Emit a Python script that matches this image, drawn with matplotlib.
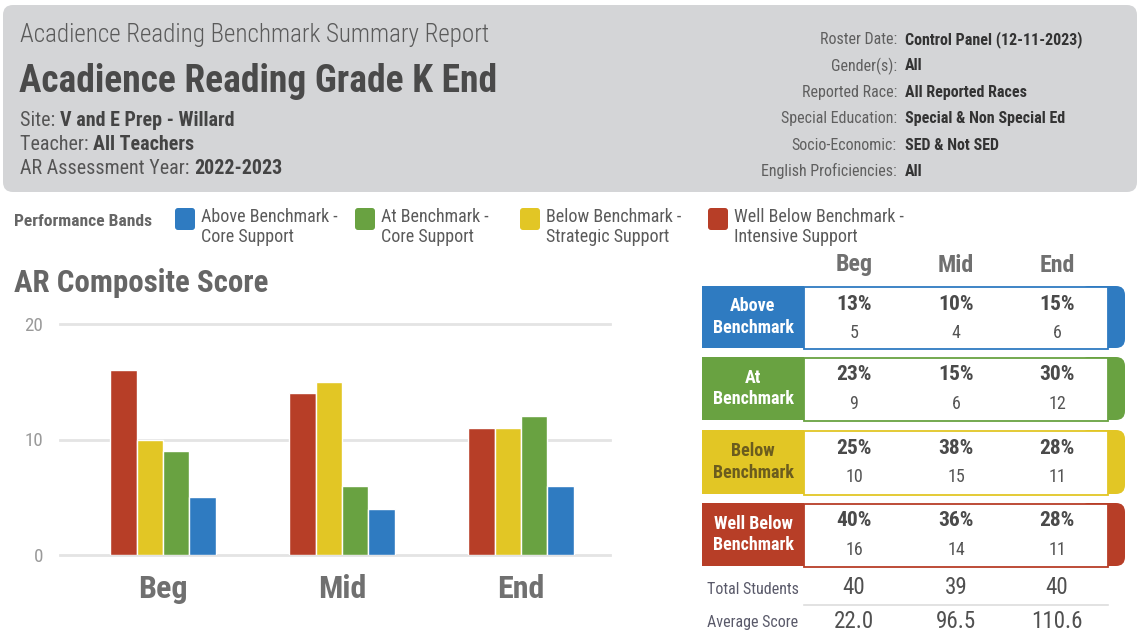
import matplotlib
matplotlib.use("Agg")
import matplotlib.pyplot as plt
import matplotlib.font_manager as fm
from matplotlib.patches import FancyBboxPatch, Rectangle
import numpy as np

# ---------------- data ----------------
periods = ["Beg", "Mid", "End"]
well_below = [16, 14, 11]
below = [10, 15, 11]
at_bm = [9, 6, 12]
above = [5, 4, 6]
above_pct = [13, 10, 15]
at_pct = [23, 15, 30]
below_pct = [25, 38, 28]
well_below_pct = [40, 36, 28]
total_students = [40, 39, 40]
average_score = ["22.0", "96.5", "110.6"]
y_ticks = [0, 10, 20]

meta_labels = ["Roster Date:", "Gender(s):", "Reported Race:", "Special Education:",
               "Socio-Economic:", "English Proficiencies:"]
meta_values = ["Control Panel (12-11-2023)", "All", "All Reported Races",
               "Special & Non Special Ed", "SED & Not SED", "All"]

legend_labels = ["Above Benchmark -\nCore Support", "At Benchmark -\nCore Support",
                 "Below Benchmark -\nStrategic Support", "Well Below Benchmark -\nIntensive Support"]
band_names = ["Above\nBenchmark", "At\nBenchmark", "Below\nBenchmark", "Well Below\nBenchmark"]

RED = "#b73e27"
YEL = "#e2c625"
GRN = "#69a241"
BLU = "#2f7bc1"

# ---------------- fonts ----------------
avail = {f.name for f in fm.fontManager.ttflist}
COND = next((n for n in ["Roboto Condensed", "Liberation Sans Narrow", "Roboto"] if n in avail), "DejaVu Sans")
plt.rcParams["font.family"] = [COND, "DejaVu Sans"]

W, H = 1140, 637
fig = plt.figure(figsize=(W / 100, H / 100), dpi=100)
fig.patch.set_facecolor("white")

bg = fig.add_axes([0, 0, 1, 1])
bg.set_xlim(0, W)
bg.set_ylim(H, 0)
bg.axis("off")

def px(p):
    return p * 0.72

# ---------------- header ----------------
bg.add_patch(FancyBboxPatch((3, 5), 1134, 187, boxstyle="round,pad=0,rounding_size=10",
                            fc="#d4d5d7", ec="none"))
bg.text(20, 35, "Acadience Reading Benchmark Summary Report", fontsize=px(25), color="#5a5a5a",
        va="center", ha="left", fontweight="light")
bg.text(19, 81, "Acadience Reading Grade K End", fontsize=px(37.5), color="#4a4a4a",
        va="center", ha="left", fontweight="bold")
sub_y = [121, 145, 168]
sub_l = ["Site: ", "Teacher: ", "AR Assessment Year: "]
sub_v = ["V and E Prep - Willard", "All Teachers", "2022-2023"]
for y, l, v in zip(sub_y, sub_l, sub_v):
    t = bg.text(20, y, l, fontsize=px(20), color="#555555", va="center", ha="left")
    bg.annotate(v, xycoords=t, xy=(1, 0.5), va="center", ha="left", fontsize=px(20),
                color="#444444", fontweight="bold")

meta_y = [40, 66, 92, 119, 145, 171]
for y, l, v in zip(meta_y, meta_labels, meta_values):
    bg.text(897, y, l, fontsize=px(16), color="#5f5f5f", ha="right", va="center")
    bg.text(905, y, v, fontsize=px(16), color="#333333", ha="left", va="center", fontweight="bold")

# ---------------- legend ----------------
bg.text(14, 221, "Performance Bands", fontsize=px(17.5), color="#666666", fontweight="bold",
        ha="left", va="center")
leg_x = [175, 355, 520, 708]
leg_c = [BLU, GRN, YEL, RED]
for x, c, lab in zip(leg_x, leg_c, legend_labels):
    bg.add_patch(FancyBboxPatch((x, 208), 20, 22, boxstyle="round,pad=0,rounding_size=3",
                                fc=c, ec="none"))
    bg.text(x + 26, 227, lab, fontsize=px(18), color="#5a5a5a", ha="left", va="center",
            linespacing=1.2)

bg.text(14, 283, "AR Composite Score", fontsize=px(31), color="#666666", fontweight="bold",
        ha="left", va="center")

# ---------------- bar chart ----------------
L, R, T, B = 60, 610, 324, 555
ax = fig.add_axes([L / W, (H - B) / H, (R - L) / W, (B - T) / H])
ax.set_facecolor("none")
x = np.arange(len(periods))
series = [(well_below, RED), (below, YEL), (at_bm, GRN), (above, BLU)]
step = 0.148
for k, (vals, c) in enumerate(series):
    ax.bar(x + (k - 1.5) * step, vals, width=step, color=c, edgecolor="white", linewidth=1.0,
           zorder=3)
for yv in y_ticks:
    ax.axhline(yv, color="#e4e4e4", lw=2, zorder=1, clip_on=False)
ax.set_xlim((L - 163) / 179, (R - 163) / 179)
ax.set_ylim(0, 20)
for s in ax.spines.values():
    s.set_visible(False)
ax.set_yticks(y_ticks)
ax.set_yticklabels([str(v) for v in y_ticks], fontsize=px(19), color="#9a9a9a")
ax.tick_params(axis="y", length=0, pad=px(17))
ax.set_xticks(x)
ax.set_xticklabels(periods, fontsize=px(32), color="#707070", fontweight="bold")
ax.tick_params(axis="x", length=0, pad=px(19))

# ---------------- table ----------------
col_x = [854, 956, 1057]
for cx, p in zip(col_x, periods):
    bg.text(cx, 265, p, fontsize=px(24), color="#707070", fontweight="bold", ha="center", va="center")

rows = [
    (above_pct, above, BLU, band_names[0], "white", 286, 348),
    (at_pct, at_bm, GRN, band_names[1], "white", 357, 420),
    (below_pct, below, YEL, band_names[2], "#6b5c1e", 430, 494),
    (well_below_pct, well_below, RED, band_names[3], "white", 503, 566),
]
for pcts, counts, c, name, tc, y0, y1 in rows:
    h = y1 - y0
    bg.add_patch(FancyBboxPatch((1080, y0), 45, h, boxstyle="round,pad=0,rounding_size=9",
                                fc=c, ec="none", zorder=1))
    bg.add_patch(Rectangle((702, y0), 102, h, fc=c, ec="none", zorder=2))
    bg.add_patch(Rectangle((804, y0 + 1), 304, h, fc="white", ec=c, lw=1.3, zorder=2))
    bg.text(753, y0 + h / 2, name, fontsize=px(18), color=tc, fontweight="bold", ha="center",
            va="center", linespacing=1.25, zorder=3)
    for cx, pv, cv in zip(col_x, pcts, counts):
        bg.text(cx, y0 + 18, f"{pv}%", fontsize=px(21.5), color="#4a4a4a", fontweight="bold",
                ha="center", va="center", zorder=3)
        bg.text(cx, y0 + 47, str(cv), fontsize=px(18), color="#555555", ha="center",
                va="center", zorder=3)

bg.text(753, 589, "Total Students", fontsize=px(16), color="#5a5a6a", ha="center", va="center")
bg.text(753, 622, "Average Score", fontsize=px(16), color="#5a5a6a", ha="center", va="center")
bg.plot([804, 1108], [605, 605], color="#dddddd", lw=1.2)
for cx, ts, av in zip(col_x, total_students, average_score):
    bg.text(cx, 588, str(ts), fontsize=px(23), color="#505050", ha="center", va="center")
    bg.text(cx, 621, av, fontsize=px(23), color="#505050", ha="center", va="center")

fig.savefig("out.png", dpi=100, facecolor="white")
